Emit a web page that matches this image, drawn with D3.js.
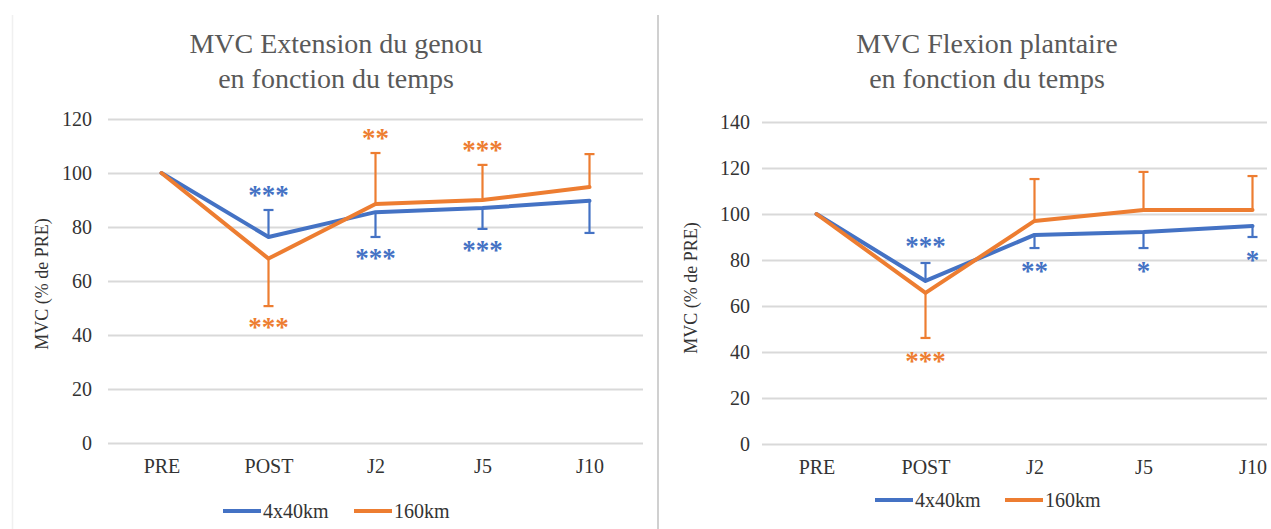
<!DOCTYPE html>
<html>
<head>
<meta charset="utf-8">
<script src="https://cdn.jsdelivr.net/npm/d3@7"></script>
<style>
  html, body { margin: 0; padding: 0; background: #ffffff; }
  svg { display: block; }
</style>
</head>
<body>
<svg id="chart" width="1271" height="529"></svg>
<script>
// ---------- data ----------
const categories = ["PRE", "POST", "J2", "J5", "J10"];
const seriesNames = ["4x40km", "160km"];

const kneeTitle = ["MVC Extension du genou", "en fonction du temps"];
const kneeTicks = [0, 20, 40, 60, 80, 100, 120];
const kneeBlue = [100, 76.3, 85.5, 87, 89.7];
const kneeBlueErr = [0, 10, -9.2, -7.7, -11.9];
const kneeOrange = [100, 68.3, 88.5, 90, 94.8];
const kneeOrangeErr = [0, -17.6, 18.9, 13, 12.2];
const kneeBlueSig = ["", "***", "***", "***", ""];
const kneeOrangeSig = ["", "***", "**", "***", ""];

const plantTitle = ["MVC Flexion plantaire", "en fonction du temps"];
const plantTicks = [0, 20, 40, 60, 80, 100, 120, 140];
const plantBlue = [100, 70.9, 90.9, 92.2, 94.8];
const plantBlueErr = [0, 7.8, -5.7, -7, -4.8];
const plantOrange = [100, 65.7, 97, 101.7, 101.7];
const plantOrangeErr = [0, -19.6, 18.2, 16.6, 14.8];
const plantBlueSig = ["", "***", "**", "*", "*"];
const plantOrangeSig = ["", "***", "", "", ""];

const yTitle = "MVC (% de PRE)";

// ---------- style ----------
const BLUE = "#4472C4";
const ORANGE = "#ED7D31";
const SERIF = "'Liberation Serif', 'Times New Roman', serif";

const svg = d3.select("#chart");
svg.append("rect").attr("width", 1271).attr("height", 529).attr("fill", "#fff");

// panel frames
svg.append("line").attr("x1", 12.5).attr("x2", 12.5).attr("y1", 15).attr("y2", 529)
  .attr("stroke", "#f0f0f0").attr("stroke-width", 1.5);
svg.append("line").attr("x1", 658).attr("x2", 658).attr("y1", 15).attr("y2", 529)
  .attr("stroke", "#d0d0d0").attr("stroke-width", 2);

function drawChart(cfg) {
  const g = svg.append("g");
  if (cfg.clip) {
    const id = "clip" + cfg.id;
    svg.append("clipPath").attr("id", id).append("rect")
      .attr("x", cfg.clip[0]).attr("y", 0).attr("width", cfg.clip[1] - cfg.clip[0]).attr("height", 529);
    g.attr("clip-path", `url(#${id})`);
  }
  const x = d3.scalePoint().domain(categories).range([cfg.x0, cfg.x1]).padding(0.5);
  const y = d3.scaleLinear().domain([0, d3.max(cfg.ticks)]).range([cfg.yBottom, cfg.yTop]);

  // y axis with gridlines
  const ya = g.append("g").attr("transform", `translate(${cfg.x0},0)`)
    .call(d3.axisLeft(y).tickValues(cfg.ticks).tickSize(-(cfg.gridEnd - cfg.x0)).tickPadding(cfg.tickPad));
  ya.select(".domain").remove();
  ya.selectAll(".tick line").attr("stroke", "#d9d9d9").attr("stroke-width", 2);
  ya.selectAll(".tick text").attr("font-family", SERIF).attr("font-size", 20).attr("fill", "#333");

  // x axis
  const xa = g.append("g").attr("transform", `translate(0,${cfg.yBottom})`)
    .call(d3.axisBottom(x).tickSize(0).tickPadding(cfg.catPad));
  xa.select(".domain").remove();
  xa.selectAll(".tick text").attr("font-family", SERIF).attr("font-size", 20).attr("fill", "#333");

  const series = [
    { vals: cfg.blue, err: cfg.blueErr, sig: cfg.blueSig, color: BLUE },
    { vals: cfg.orange, err: cfg.orangeErr, sig: cfg.orangeSig, color: ORANGE }
  ];
  const line = d3.line().x((d, i) => x(categories[i])).y(d => y(d));

  series.forEach(s => {
    const sg = g.append("g");
    sg.append("path").datum(s.vals).attr("d", line)
      .attr("fill", "none").attr("stroke", s.color).attr("stroke-width", 4)
      .attr("stroke-linejoin", "round").attr("stroke-linecap", "round");
    const pts = s.vals.map((v, i) => ({ c: categories[i], v, e: s.err[i], sig: s.sig[i] }));
    const eb = pts.filter(p => p.e !== 0);
    sg.selectAll("line.eb").data(eb).join("line").attr("class", "eb")
      .attr("x1", p => x(p.c)).attr("x2", p => x(p.c))
      .attr("y1", p => y(p.v)).attr("y2", p => y(p.v + p.e))
      .attr("stroke", s.color).attr("stroke-width", 2.2);
    sg.selectAll("line.cap").data(eb).join("line").attr("class", "cap")
      .attr("x1", p => x(p.c) - 5).attr("x2", p => x(p.c) + 5)
      .attr("y1", p => y(p.v + p.e)).attr("y2", p => y(p.v + p.e))
      .attr("stroke", s.color).attr("stroke-width", 2.2);
    // significance stars beyond the error cap
    sg.selectAll("text.sig").data(pts.filter(p => p.sig)).join("text").attr("class", "sig")
      .attr("x", p => x(p.c))
      .attr("y", p => y(p.v + p.e) + (p.e >= 0 ? -cfg.sigOff : cfg.sigOff) + 12)
      .attr("text-anchor", "middle")
      .attr("font-family", SERIF).attr("font-weight", "bold").attr("font-size", 27)
      .attr("fill", s.color)
      .text(p => p.sig);
  });

  // title
  const t = svg.append("text").attr("text-anchor", "middle")
    .attr("font-family", SERIF).attr("font-size", 28).attr("fill", "#595959");
  cfg.title.forEach((ln, i) => {
    t.append("tspan").attr("x", cfg.titleX).attr("y", cfg.titleY + i * 35).text(ln);
  });

  // y title
  svg.append("text")
    .attr("transform", `translate(${cfg.yTitleX},${cfg.yTitleY}) rotate(-90)`)
    .attr("text-anchor", "middle")
    .attr("font-family", SERIF).attr("font-size", 18).attr("fill", "#333")
    .text(yTitle);

  // legend
  const lg = svg.append("g").attr("transform", `translate(${cfg.legendX},${cfg.legendY})`);
  const lgItems = [
    { name: seriesNames[0], color: BLUE, off: 0 },
    { name: seriesNames[1], color: ORANGE, off: cfg.legendGap }
  ];
  lgItems.forEach(it => {
    lg.append("line").attr("x1", it.off).attr("x2", it.off + 38).attr("y1", 0).attr("y2", 0)
      .attr("stroke", it.color).attr("stroke-width", 4);
    lg.append("text").attr("x", it.off + 40).attr("y", 7)
      .attr("font-family", SERIF).attr("font-size", 20).attr("fill", "#333")
      .text(it.name);
  });
}

drawChart({
  id: "knee", x0: 108, x1: 643, gridEnd: 643, yBottom: 443, yTop: 119,
  ticks: kneeTicks, tickPad: 16, catPad: 16, sigOff: 18,
  blue: kneeBlue, blueErr: kneeBlueErr, blueSig: kneeBlueSig,
  orange: kneeOrange, orangeErr: kneeOrangeErr, orangeSig: kneeOrangeSig,
  title: kneeTitle, titleX: 336, titleY: 53,
  yTitleX: 48, yTitleY: 284,
  legendX: 223, legendY: 511, legendGap: 131
});

drawChart({
  id: "plant", x0: 762, x1: 1307, gridEnd: 1267, yBottom: 444, yTop: 122,
  ticks: plantTicks, tickPad: 12, catPad: 16, sigOff: 20, clip: [659, 1271],
  blue: plantBlue, blueErr: plantBlueErr, blueSig: plantBlueSig,
  orange: plantOrange, orangeErr: plantOrangeErr, orangeSig: plantOrangeSig,
  title: plantTitle, titleX: 987, titleY: 53,
  yTitleX: 697, yTitleY: 288,
  legendX: 875, legendY: 500, legendGap: 130
});
</script>
</body>
</html>
